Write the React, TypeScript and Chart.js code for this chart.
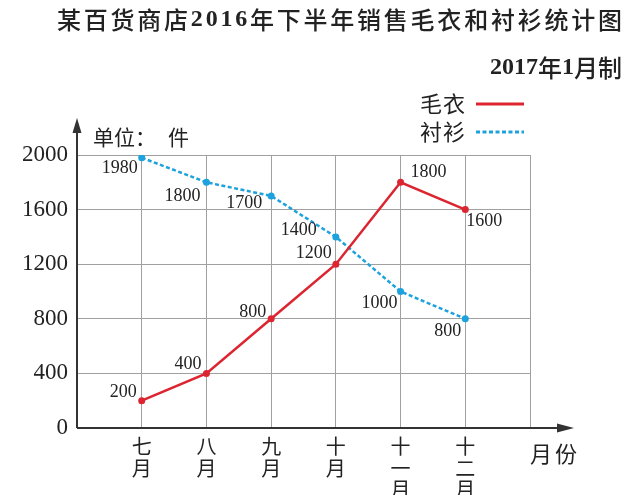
import React, { useEffect, useRef } from 'react';
import { Chart, registerables } from 'chart.js';

Chart.register(...registerables);

const monthLabels: string[][] = [
  ['七', '月'],
  ['八', '月'],
  ['九', '月'],
  ['十', '月'],
  ['十', '一', '月'],
  ['十', '二', '月'],
];
const sweaterSales = [200, 400, 800, 1200, 1800, 1600];
const shirtSales = [1980, 1800, 1700, 1400, 1000, 800];
const yTickLabels = [0, 400, 800, 1200, 1600, 2000];

const RED = '#dc2530';
const BLUE = '#1ea2dd';
const INK = '#222222';
const CJK = '"Noto Sans CJK SC", "Noto Sans CJK JP", sans-serif';
const SERIF = '"Liberation Serif", "DejaVu Serif", serif';

// label placement relative to the point: [dx, dy, align]
const sweaterLabelPos: [number, number, CanvasTextAlign][] = [
  [-5, -8, 'right'],
  [-5, -9, 'right'],
  [-5, -7, 'right'],
  [-4, -11, 'right'],
  [10, -10, 'left'],
  [1, 12, 'left'],
];
const shirtLabelPos: [number, number, CanvasTextAlign][] = [
  [-4, 11, 'right'],
  [-6, 14, 'right'],
  [-9, 7, 'right'],
  [-19, -7, 'right'],
  [-3, 12, 'right'],
  [-4, 12, 'right'],
];

type Run = [string, boolean];

function drawRuns(
  ctx: CanvasRenderingContext2D,
  runs: Run[],
  size: number,
  left: number,
  right: number | null,
  y: number,
  spacing: number | null
) {
  const chars: { ch: string; font: string; w: number }[] = [];
  runs.forEach(([text, isDigit]) => {
    const font = isDigit ? `bold ${size}px ${SERIF}` : `500 ${size}px ${CJK}`;
    ctx.font = font;
    for (const ch of Array.from(text)) {
      chars.push({ ch, font, w: ctx.measureText(ch).width });
    }
  });
  const base = chars.reduce((s, c) => s + c.w, 0);
  let sp = spacing ?? 0;
  let x = left;
  if (right !== null && spacing === null) {
    sp = (right - left - base) / Math.max(1, chars.length - 1);
  } else if (right !== null && left < 0) {
    x = right - base - sp * (chars.length - 1);
  }
  ctx.textBaseline = 'middle';
  ctx.textAlign = 'left';
  ctx.fillStyle = INK;
  for (const c of chars) {
    ctx.font = c.font;
    ctx.fillText(c.ch, x, y);
    x += c.w + sp;
  }
}

function drawSpaced(
  ctx: CanvasRenderingContext2D,
  text: string,
  font: string,
  x: number,
  y: number,
  sp: number
) {
  ctx.font = font;
  ctx.textAlign = 'left';
  ctx.textBaseline = 'middle';
  for (const ch of Array.from(text)) {
    ctx.fillText(ch, x, y);
    x += ctx.measureText(ch).width + sp;
  }
}

const decorPlugin = {
  id: 'decor',
  afterDraw(chart: any) {
    const ctx: CanvasRenderingContext2D = chart.ctx;
    const { left, right, top, bottom } = chart.chartArea;
    ctx.save();

    // axes
    ctx.strokeStyle = '#333333';
    ctx.fillStyle = '#333333';
    ctx.lineWidth = 2;
    ctx.beginPath();
    ctx.moveTo(left, bottom);
    ctx.lineTo(left, top - 28);
    ctx.moveTo(left, bottom);
    ctx.lineTo(right + 30, bottom);
    ctx.stroke();
    // arrows
    ctx.beginPath();
    ctx.moveTo(left, top - 37);
    ctx.lineTo(left - 4.5, top - 22);
    ctx.lineTo(left + 4.5, top - 22);
    ctx.closePath();
    ctx.fill();
    ctx.beginPath();
    ctx.moveTo(right + 44, bottom);
    ctx.lineTo(right + 27, bottom - 4.5);
    ctx.lineTo(right + 27, bottom + 4.5);
    ctx.closePath();
    ctx.fill();

    // title & subtitle
    drawRuns(
      ctx,
      [
        ['某百货商店', false],
        ['2016', true],
        ['年下半年销售毛衣和衬衫统计图', false],
      ],
      24,
      57,
      622,
      20,
      null
    );
    drawRuns(
      ctx,
      [
        ['2017', true],
        ['年', false],
        ['1', true],
        ['月制', false],
      ],
      24,
      -1,
      622,
      68,
      0
    );

    // legend
    ctx.fillStyle = INK;
    drawSpaced(ctx, '毛衣', `22px ${CJK}`, 420, 104, 1);
    drawSpaced(ctx, '衬衫', `22px ${CJK}`, 420, 132, 1);
    ctx.lineWidth = 3;
    ctx.strokeStyle = RED;
    ctx.setLineDash([]);
    ctx.beginPath();
    ctx.moveTo(476, 104);
    ctx.lineTo(524, 104);
    ctx.stroke();
    ctx.strokeStyle = BLUE;
    ctx.setLineDash([4, 2.5]);
    ctx.beginPath();
    ctx.moveTo(476, 132);
    ctx.lineTo(524, 132);
    ctx.stroke();
    ctx.setLineDash([]);

    // unit & x-axis name
    ctx.fillStyle = INK;
    drawSpaced(ctx, '单位：', `21px ${CJK}`, 93, 137, 0);
    drawSpaced(ctx, '件', `21px ${CJK}`, 168, 137, 0);
    drawSpaced(ctx, '月份', `22px ${CJK}`, 530, 454, 3);

    // data labels
    ctx.font = `18px ${SERIF}`;
    ctx.textBaseline = 'middle';
    ctx.fillStyle = INK;
    const sets: [number, number[], [number, number, CanvasTextAlign][]][] = [
      [0, sweaterSales, sweaterLabelPos],
      [1, shirtSales, shirtLabelPos],
    ];
    sets.forEach(([di, vals, pos]) => {
      const meta = chart.getDatasetMeta(di);
      meta.data.forEach((pt: any, i: number) => {
        const [dx, dy, al] = pos[i];
        ctx.textAlign = al;
        ctx.fillText(String(vals[i]), pt.x + dx, pt.y + dy);
      });
    });

    ctx.restore();
  },
};

const bgPlugin = {
  id: 'bg',
  beforeDraw(chart: any) {
    const ctx = chart.ctx;
    ctx.save();
    ctx.fillStyle = '#ffffff';
    ctx.fillRect(0, 0, chart.width, chart.height);
    ctx.restore();
  },
};

export default function App() {
  const ref = useRef<HTMLCanvasElement | null>(null);

  useEffect(() => {
    if (!ref.current) return;
    const chart = new Chart(ref.current, {
      type: 'line',
      data: {
        datasets: [
          {
            label: '毛衣',
            data: sweaterSales.map((v, i) => ({ x: i, y: v })),
            borderColor: RED,
            backgroundColor: RED,
            borderWidth: 2.5,
            pointRadius: 3.5,
            pointBorderWidth: 0,
            pointBackgroundColor: RED,
            tension: 0,
          },
          {
            label: '衬衫',
            data: shirtSales.map((v, i) => ({ x: i, y: v })),
            borderColor: BLUE,
            backgroundColor: BLUE,
            borderWidth: 2.5,
            borderDash: [4, 2.5],
            pointRadius: 3.5,
            pointBorderWidth: 0,
            pointBackgroundColor: BLUE,
            tension: 0,
          },
        ],
      },
      options: {
        responsive: false,
        animation: false,
        layout: { padding: { top: 155, right: 100, left: 0, bottom: 0 } },
        plugins: {
          legend: { display: false },
          title: { display: false },
          tooltip: { enabled: false },
        },
        scales: {
          x: {
            type: 'linear',
            min: -1,
            max: 6,
            border: { display: false },
            grid: { color: '#a0a0a0', lineWidth: 1, drawTicks: false },
            afterFit: (scale: any) => {
              scale.height = 67;
            },
            afterBuildTicks: (scale: any) => {
              const t = [];
              for (let i = -1; i <= 6; i++) t.push({ value: i });
              scale.ticks = t;
            },
            ticks: {
              autoSkip: false,
              maxRotation: 0,
              padding: 8,
              color: INK,
              font: { family: CJK, size: 20, lineHeight: 1.07 },
              callback: (v: any) => {
                const i = Number(v);
                return i >= 0 && i < monthLabels.length ? monthLabels[i] : '';
              },
            },
          },
          y: {
            min: 0,
            max: 2000,
            border: { display: false },
            grid: { color: '#a0a0a0', lineWidth: 1, drawTicks: false },
            afterFit: (scale: any) => {
              scale.width = 77;
            },
            ticks: {
              stepSize: 200,
              padding: 9,
              color: INK,
              font: { family: SERIF, size: 23 },
              callback: (v: any) =>
                yTickLabels.includes(Number(v)) ? String(v) : '',
            },
          },
        },
      },
      plugins: [bgPlugin, decorPlugin],
    } as any);
    return () => chart.destroy();
  }, []);

  return (
    <div style={{ position: 'fixed', left: 0, top: 0, width: 630, height: 495 }}>
      <canvas ref={ref} width={630} height={495} />
    </div>
  );
}
